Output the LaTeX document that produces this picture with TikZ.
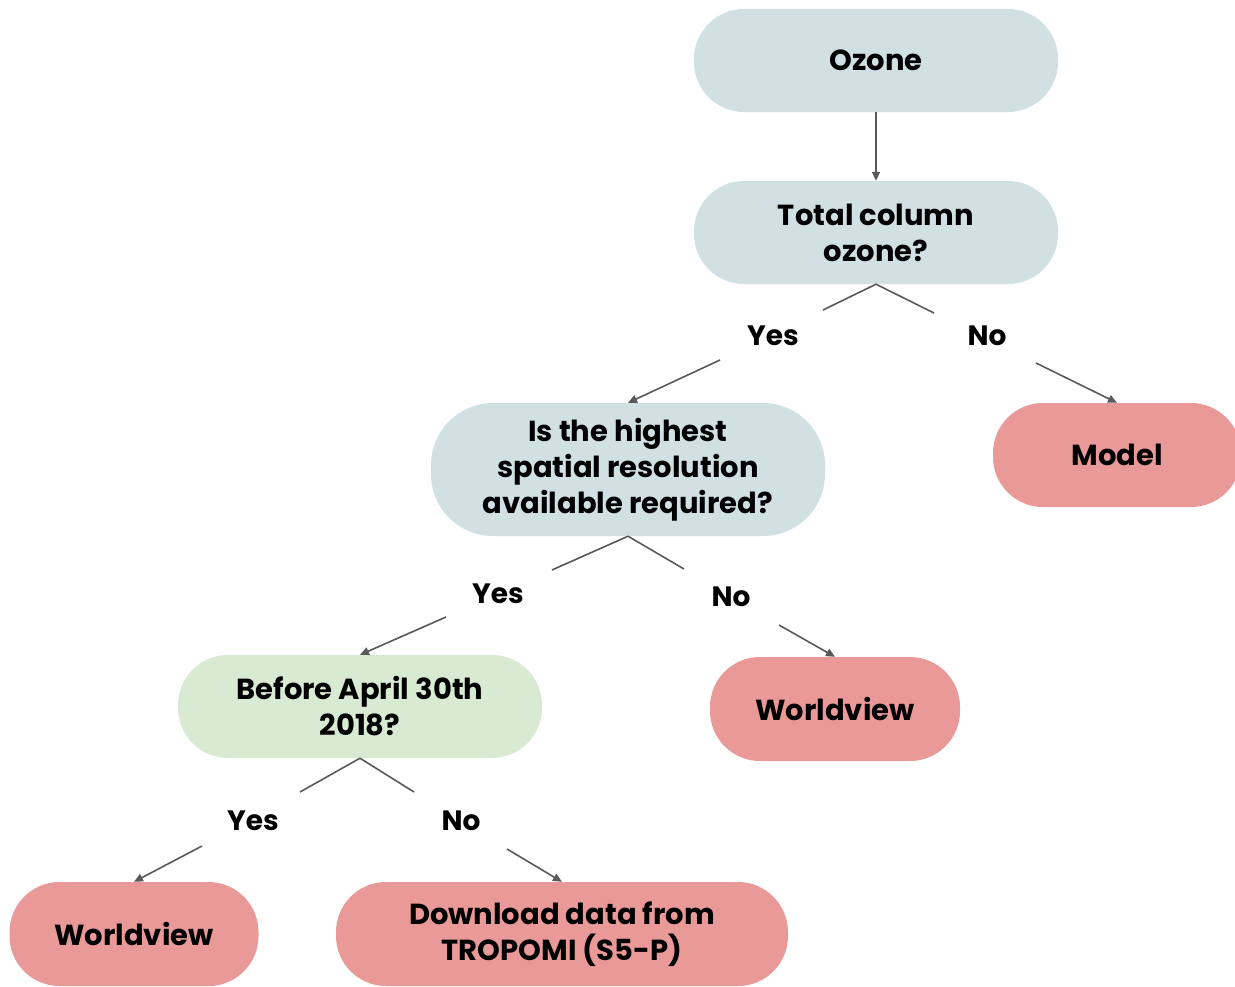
\documentclass[tikz,border=0pt]{standalone}
\usepackage{fontspec}
\setmainfont{Poppins}
\usetikzlibrary{arrows.meta}
\definecolor{qblue}{HTML}{D0E0E3}
\definecolor{qgreen}{HTML}{D9EAD3}
\definecolor{ans}{HTML}{EA9999}
\definecolor{link}{HTML}{595959}
\tikzset{
  pill/.style={draw=none, rounded corners=#1, align=center, inner sep=0pt,
    font=\fontsize{29}{36}\selectfont\bfseries},
  pill/.default=50pt,
  question/.style={pill, fill=qblue},
  datequestion/.style={pill, fill=qgreen},
  answer/.style={pill, fill=ans},
  branch/.style={font=\fontsize{28}{30}\selectfont\bfseries, inner sep=0pt},
  link/.style={draw=link, line width=1.6pt},
  arrowlink/.style={link, -{Triangle[length=9pt,width=8pt]}},
}
\begin{document}
\begin{tikzpicture}[x=1pt,y=-1pt]
\useasboundingbox (0,0) rectangle (1235,986);

% decision nodes
\node[question, minimum width=364pt, minimum height=103pt] (ozone) at (876,60.5) {Ozone};
\node[question, minimum width=364pt, minimum height=103pt] (total) at (876,232.5) {Total column\\ozone?};
\node[question, pill=62pt, minimum width=394pt, minimum height=133pt] (res) at (628,469.5) {Is the highest\\spatial resolution\\available required?};
\node[datequestion, minimum width=364pt, minimum height=103pt] (date) at (360,706.5) {Before April 30th\\2018?};

% outcomes
\node[answer, minimum width=248pt, minimum height=104pt] (model) at (1117,455) {Model};
\node[answer, minimum width=250pt, minimum height=104pt] (wvmid) at (835,709) {Worldview};
\node[answer, minimum width=249pt, minimum height=104pt] (wvlow) at (134,934) {Worldview};
\node[answer, minimum width=452pt, minimum height=104pt] (tropomi) at (562,934) {Download data from\\TROPOMI (S5-P)};

% branch labels
\node[branch] (y1) at (773,336) {Yes};
\node[branch] (n1) at (987,336) {No};
\node[branch] (y2) at (498,594) {Yes};
\node[branch] (n2) at (731,597) {No};
\node[branch] (y3) at (253,821) {Yes};
\node[branch] (n3) at (461,821) {No};

% free ends of the branch strokes
\coordinate (y1a) at (823,310);  \coordinate (n1a) at (934,313);
\coordinate (y1b) at (720,360);  \coordinate (n1b) at (1036,363);
\coordinate (y2a) at (552,570);  \coordinate (n2a) at (684,569);
\coordinate (y2b) at (446,617);  \coordinate (n2b) at (779,625);
\coordinate (y3a) at (300,792);  \coordinate (n3a) at (414,792);
\coordinate (y3b) at (202,846);  \coordinate (n3b) at (507,849);

% connectors
\draw[arrowlink] (ozone.south) -- (total.north);

\draw[link] (total.south) -- (y1a);
\draw[link] (total.south) -- (n1a);
\draw[arrowlink] (y1b) -- (res.north);
\draw[arrowlink] (n1b) -- (model.north);

\draw[link] (res.south) -- (y2a);
\draw[link] (res.south) -- (n2a);
\draw[arrowlink] (y2b) -- (date.north);
\draw[arrowlink] (n2b) -- (wvmid.north);

\draw[link] (date.south) -- (y3a);
\draw[link] (date.south) -- (n3a);
\draw[arrowlink] (y3b) -- (wvlow.north);
\draw[arrowlink] (n3b) -- (tropomi.north);
\end{tikzpicture}
\end{document}
